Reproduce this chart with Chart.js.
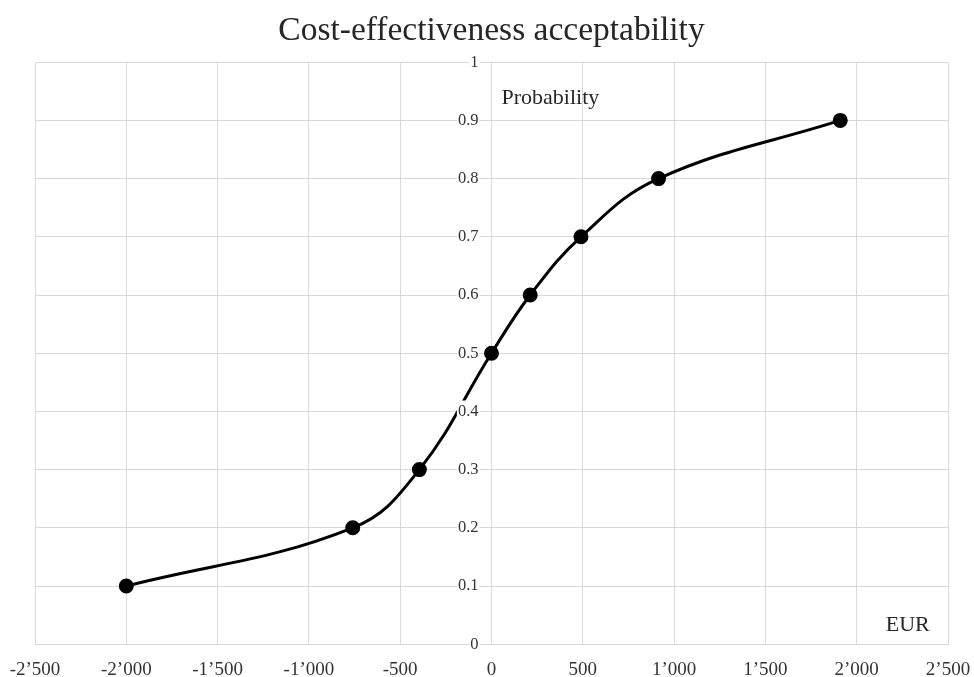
<!DOCTYPE html>
<html>
<head>
<meta charset="utf-8">
<script src="https://cdn.jsdelivr.net/npm/chart.js@4"></script>
<style>
  html, body { margin: 0; padding: 0; background: #fff; }
  #wrap { width: 974px; height: 677px; }
</style>
</head>
<body>
<div id="wrap"><canvas id="c" width="974" height="677"></canvas></div>
<script>
// ---- data ----
const costEUR = [-2000, -760, -395, 0, 212, 490, 915, 1910];
const probability = [0.1, 0.2, 0.3, 0.5, 0.6, 0.7, 0.8, 0.9];
const xTickValues = [-2500, -2000, -1500, -1000, -500, 0, 500, 1000, 1500, 2000, 2500];
const xTickLabels = ["-2\u2019500", "-2\u2019000", "-1\u2019500", "-1\u2019000", "-500", "0", "500", "1\u2019000", "1\u2019500", "2\u2019000", "2\u2019500"];
const yTickValues = [0, 0.1, 0.2, 0.3, 0.4, 0.5, 0.6, 0.7, 0.8, 0.9, 1];
const yTickLabels = ["0", "0.1", "0.2", "0.3", "0.4", "0.5", "0.6", "0.7", "0.8", "0.9", "1"];
const titleText = "Cost-effectiveness acceptability";
const yAxisName = "Probability";
const xAxisName = "EUR";

const SERIF = "'Liberation Serif', 'Times New Roman', serif";
const GRID = '#d9d9d9';
const TEXT = '#262626';
const TICK_TEXT = '#333333';

const axisNames = {
  id: 'axisNames',
  afterDraw(chart) {
    const { ctx, scales: { x, y } } = chart;
    ctx.save();
    ctx.fillStyle = TEXT;
    ctx.font = "22px " + SERIF;
    ctx.textBaseline = 'middle';
    ctx.textAlign = 'left';
    ctx.fillText(yAxisName, x.getPixelForValue(0) + 10, y.getPixelForValue(0.938));
    ctx.textAlign = 'right';
    ctx.fillText(xAxisName, x.getPixelForValue(2400), y.getPixelForValue(0.032));
    ctx.restore();
  }
};

new Chart(document.getElementById('c'), {
  type: 'line',
  data: {
    datasets: [{
      data: costEUR.map((v, i) => ({ x: v, y: probability[i] })),
      borderColor: '#000',
      backgroundColor: '#000',
      borderWidth: 3,
      pointRadius: 6,
      pointHoverRadius: 6,
      pointBackgroundColor: '#000',
      pointBorderColor: '#000',
      tension: 0.4,
      fill: false
    }]
  },
  options: {
    responsive: false,
    animation: false,
    devicePixelRatio: 1,
    layout: { padding: { left: 35, right: 26, top: 0, bottom: -18 } },
    plugins: {
      legend: { display: false },
      tooltip: { enabled: false },
      title: {
        display: true,
        text: titleText,
        color: TEXT,
        font: { family: SERIF, size: 33.5, weight: 'normal' },
        padding: { top: 11, bottom: 11 }
      }
    },
    scales: {
      x: {
        type: 'linear',
        min: -2500,
        max: 2500,
        afterBuildTicks: (s) => { s.ticks = xTickValues.map(v => ({ value: v })); },
        afterFit: (s) => { s.paddingLeft = 0; s.paddingRight = 0; },
        ticks: {
          callback: (v) => xTickLabels[xTickValues.indexOf(v)],
          color: TICK_TEXT,
          font: { family: SERIF, size: 19 },
          padding: 14,
          maxRotation: 0,
          autoSkip: false
        },
        grid: { color: GRID, lineWidth: 1, drawTicks: false },
        border: { color: GRID }
      },
      y: {
        type: 'linear',
        min: 0,
        max: 1,
        position: 'center',
        afterBuildTicks: (s) => { s.ticks = yTickValues.map(v => ({ value: v })); },
        afterFit: (s) => { s.width = 0; },
        ticks: {
          callback: (v) => yTickLabels[yTickValues.findIndex(t => Math.abs(t - v) < 1e-9)],
          color: TICK_TEXT,
          font: { family: SERIF, size: 16.5 },
          padding: 0,
          showLabelBackdrop: true,
          backdropColor: '#fff',
          backdropPadding: 1,
          z: 1,
          autoSkip: false
        },
        grid: { color: GRID, lineWidth: 1, drawTicks: true, tickLength: 13, tickColor: 'rgba(0,0,0,0)' },
        border: { color: GRID }
      }
    }
  },
  plugins: [axisNames]
});
</script>
</body>
</html>
